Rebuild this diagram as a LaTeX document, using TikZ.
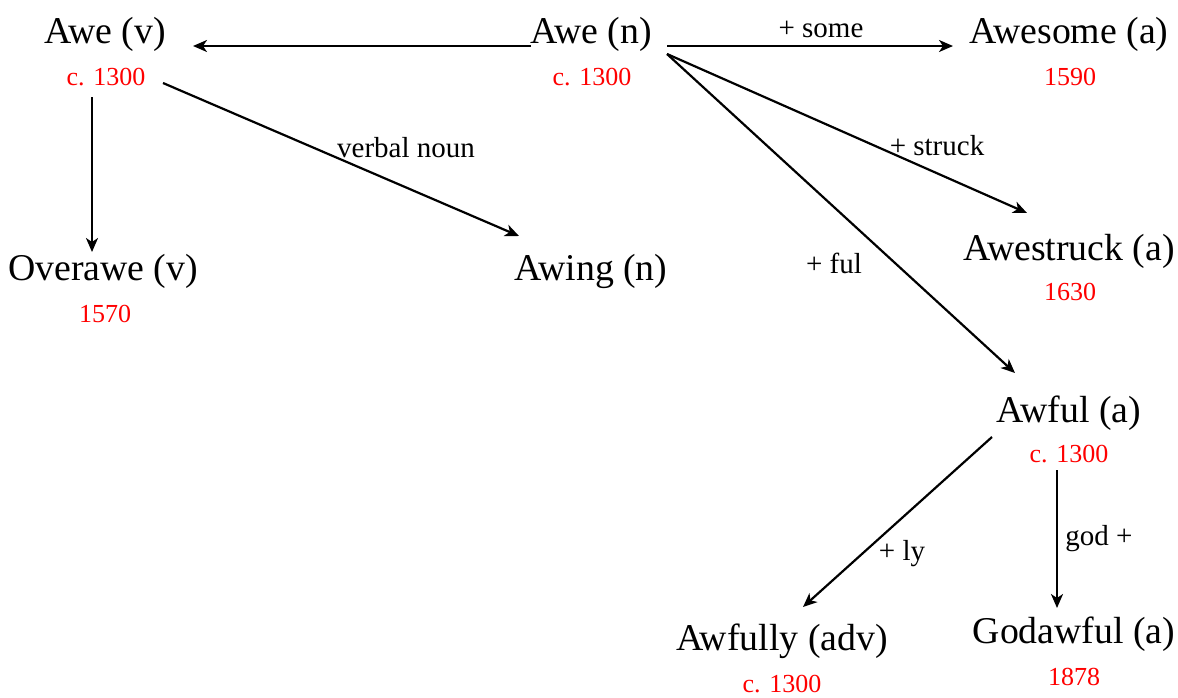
\documentclass[tikz,border=0pt]{standalone}
\usepackage{fontspec}
\setmainfont{Liberation Serif}
\usetikzlibrary{arrows.meta,calc}
\begin{document}
\begin{tikzpicture}[x=1pt,y=-1pt,
  word/.style={anchor=base,inner sep=0pt,font=\fontsize{37.8}{42}\selectfont},
  year/.style={anchor=base,inner sep=0pt,text=red,font=\fontsize{26}{30}\selectfont},
  lbl/.style={anchor=base,inner sep=0pt,font=\fontsize{29}{33}\selectfont},
  conn/.style={line width=2.2pt,-{Stealth[length=14pt,width=12pt,inset=4pt]}}]
\useasboundingbox (0,0) rectangle (1178,697);
% words
\node[word] (awev) at (105,43) {Awe (v)};
\node[year] (awevd) at (106,85) {c. 1300};
\node[word] (awen) at (591,43) {Awe (n)};
\node[year] (awend) at (592,85) {c. 1300};
\node[word] (awesome) at (1069,43) {Awesome (a)};
\node[year] (awesomed) at (1070,85) {1590};
\node[word] (overawe) at (103,280) {Overawe (v)};
\node[year] (overawed) at (105,322) {1570};
\node[word] (awing) at (591,280) {Awing (n)};
\node[word] (awestruck) at (1069,260) {Awestruck (a)};
\node[year] (awestruckd) at (1070,300) {1630};
\node[word] (awful) at (1069,422) {Awful (a)};
\node[year] (awfuld) at (1069,462) {c. 1300};
\node[word] (awfully) at (782,650) {Awfully (adv)};
\node[year] (awfullyd) at (782,692) {c. 1300};
\node[word] (godawful) at (1074,643) {Godawful (a)};
\node[year] (godawfuld) at (1074,685) {1878};
% connectors
\draw[conn] ($(awen.base)+(-60,3)$) -- ($(awev.base)+(88,3)$);
\draw[conn] ($(awen.base)+(76,3)$) -- ($(awesome.base)+(-116,3)$);
\draw[conn] ($(awen.base)+(76,11)$) -- ($(awestruck.base)+(-42,-47)$);
\draw[conn] ($(awen.base)+(76,11)$) -- ($(awful.base)+(-54,-49)$);
\draw[conn] ($(awevd.base)+(57,-2)$) -- ($(awing.base)+(-72,-44)$);
\draw[conn] ($(awevd.base)+(-14,12)$) -- ($(overawe.base)+(-11,-28)$);
\draw[conn] ($(awful.base)+(-77,15)$) -- ($(awfully.base)+(21,-43)$);
\draw[conn] ($(awfuld.base)+(-12,8)$) -- ($(godawful.base)+(-17,-35)$);
% labels
\node[lbl] (lsome) at (821,37) {+ some};
\node[lbl] (lverbal) at (406,157) {verbal noun};
\node[lbl] (lstruck) at (937,155) {+ struck};
\node[lbl] (lful) at (834,273) {+ ful};
\node[lbl] (lly) at (902,560) {+ ly};
\node[lbl] (lgod) at (1099,545) {god +};
\end{tikzpicture}
\end{document}
